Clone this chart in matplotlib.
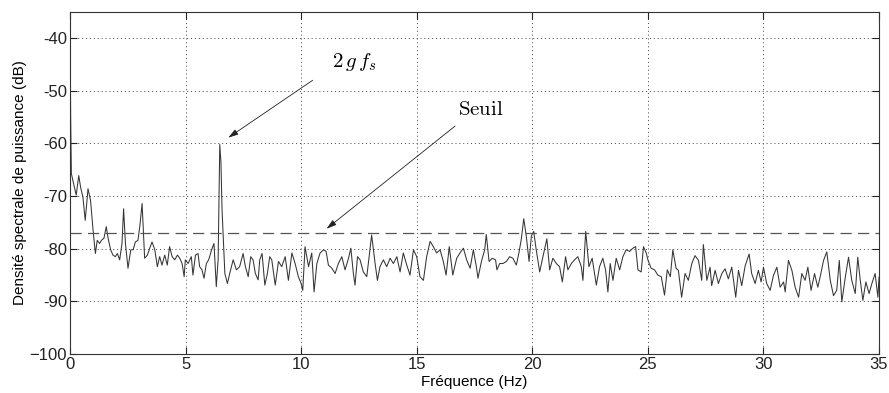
import matplotlib
matplotlib.use("Agg")
import matplotlib.pyplot as plt

# Frequencies (Hz) and power spectral density (dB)
freq = [0.0, 0.03, 0.06, 0.17, 0.27, 0.38, 0.46, 0.56, 0.66, 0.78, 0.89, 1.0,
        1.10, 1.18, 1.28, 1.36, 1.47, 1.57, 1.65, 1.76, 1.86, 1.96, 2.05, 2.15,
        2.25, 2.32, 2.40, 2.51, 2.63, 2.73, 2.83, 2.94, 3.02, 3.12, 3.23, 3.35,
        3.45, 3.55, 3.67, 3.78, 3.88, 3.98, 4.10, 4.21, 4.31, 4.42, 4.53, 4.65,
        4.75, 4.85, 4.94, 4.99,
        5.11, 5.25, 5.32, 5.43, 5.54, 5.61, 5.71, 5.80, 5.90, 6.00, 6.12, 6.23,
        6.33, 6.41, 6.48, 6.53, 6.58, 6.70, 6.81, 6.91, 7.06, 7.20, 7.34, 7.49,
        7.59, 7.71, 7.82, 7.92, 8.02, 8.14, 8.21, 8.31, 8.43, 8.54, 8.64,
        8.73, 8.88, 9.02, 9.16, 9.31, 9.45, 9.60, 9.74, 9.88, 10.0, 10.07, 10.17,
        10.32, 10.46, 10.56, 10.68, 10.82, 10.97, 11.08, 11.18, 11.33, 11.47,
        11.61, 11.76, 11.90, 12.05, 12.15, 12.26, 12.33, 12.44, 12.55, 12.69,
        12.84, 12.95, 13.05, 13.20, 13.30, 13.41, 13.56, 13.70, 13.85, 13.99,
        14.14, 14.28, 14.42, 14.57, 14.71, 14.86, 15.0, 15.14, 15.29, 15.43,
        15.58, 15.72, 15.86, 16.01, 16.15, 16.27, 16.41, 16.56, 16.73, 16.87,
        17.02, 17.16, 17.31, 17.45,
        17.58, 17.65, 17.80, 17.94, 18.01, 18.13, 18.27, 18.41, 18.47, 18.59,
        18.73, 18.88, 19.02, 19.16, 19.31, 19.42, 19.52, 19.63, 19.74, 19.86,
        19.96, 20.06, 20.17, 20.32, 20.46, 20.63, 20.75, 20.89, 21.04, 21.18,
        21.30, 21.44, 21.54, 21.69, 21.83, 21.97, 22.12, 22.19, 22.31, 22.45,
        22.59, 22.77, 22.91, 23.05, 23.17, 23.27, 23.37, 23.49, 23.63, 23.78,
        23.92, 24.06, 24.21, 24.35, 24.47, 24.57, 24.71, 24.81, 24.93, 25.0,
        25.14, 25.29, 25.43, 25.58, 25.72, 25.84, 25.97, 26.08, 26.22,
        26.32, 26.46, 26.61, 26.75, 26.90, 27.04, 27.19, 27.33, 27.40, 27.55,
        27.69, 27.76, 27.91, 28.05, 28.20, 28.34, 28.48, 28.63, 28.80, 28.92,
        29.06, 29.21, 29.38, 29.49, 29.64, 29.78, 29.90, 30.0, 30.14, 30.29,
        30.43, 30.58, 30.72, 30.87, 30.94, 31.08, 31.23, 31.37, 31.52, 31.66,
        31.80, 31.92, 32.06, 32.21, 32.35, 32.45, 32.60, 32.74, 32.89, 33.03,
        33.17, 33.28, 33.39, 33.54, 33.68, 33.82, 33.97, 34.08, 34.18, 34.30,
        34.43, 34.57, 34.69, 34.83, 34.95, 35.0]

psd = [-35.0, -55.0, -65.7, -67.9, -69.8, -66.1, -68.3, -70.2, -74.6, -68.6, -70.8, -76.5,
       -80.9, -78.4, -79.0, -78.4, -78.0, -75.8, -78.0, -80.2, -81.2, -81.5, -80.9, -82.1,
       -79.0, -72.4, -79.0, -83.7, -80.2, -80.2, -78.7, -78.4, -75.8, -71.4, -81.8, -81.2,
       -79.9, -78.7, -80.2, -83.4, -81.5, -83.1, -81.2, -83.1, -79.6, -81.5, -82.1, -81.2,
       -81.8, -82.8, -85.3, -82.1,
       -82.8, -81.5, -85.0, -81.2, -80.9, -83.4, -84.0, -85.6, -82.8, -82.1, -80.3, -79.0,
       -87.2, -82.0, -60.2, -63.5, -72.7, -84.7, -86.6, -84.7, -82.1, -84.0, -83.4, -80.9,
       -83.4, -85.3, -81.5, -82.1, -84.7, -85.9, -82.1, -80.9, -86.9, -84.7, -81.5,
       -82.1, -86.9, -82.4, -83.4, -81.5, -86.0, -80.8, -82.8, -85.3, -86.6, -87.9, -79.6,
       -83.4, -80.8, -88.2, -82.8, -80.8, -80.2, -80.5, -83.1, -83.7, -84.7,
       -82.8, -81.5, -84.0, -81.8, -79.9, -84.7, -86.9, -81.5, -82.1, -84.4,
       -85.3, -81.2, -77.4, -82.8, -86.0, -83.4, -82.1, -83.4, -81.8, -82.8,
       -81.5, -84.4, -80.8, -83.1, -85.0, -80.2, -81.5, -85.3, -86.0, -81.5,
       -78.6, -79.6, -80.8, -80.2, -82.4, -85.0, -79.6, -85.0, -81.8, -80.8,
       -79.9, -82.1, -83.7, -80.2,
       -83.4, -85.6, -82.4, -80.2, -77.3, -82.4, -81.8, -82.1, -84.0, -82.8,
       -82.8, -82.4, -81.5, -81.8, -83.1, -80.8, -78.3, -74.3, -77.6, -82.4,
       -77.6, -76.7, -80.2, -84.4, -81.5, -78.1, -84.0, -81.8, -82.8, -83.4,
       -86.3, -81.5, -84.0, -82.8, -82.1, -81.5, -83.4, -86.0, -76.7, -83.4,
       -81.8, -86.9, -83.4, -81.8, -84.0, -88.2, -82.8, -86.0, -81.8, -84.0,
       -81.5, -80.2, -80.5, -79.9, -79.6, -84.0, -84.4, -79.6, -80.8, -82.1,
       -83.7, -84.0, -85.0, -85.3, -88.8, -84.0, -85.3, -80.2, -83.7,
       -84.1, -89.2, -84.7, -86.0, -82.8, -81.3, -82.2, -86.0, -79.2, -86.0,
       -83.5, -87.0, -84.1, -86.6, -84.7, -83.8, -85.7, -83.5, -89.2, -84.1,
       -87.0, -83.2, -81.0, -84.7, -86.6, -84.1, -86.3, -83.5, -86.6, -87.9,
       -85.1, -83.5, -87.3, -86.3, -88.2, -82.2, -84.1, -87.3, -89.2, -84.7,
       -86.0, -83.5, -87.9, -84.7, -87.3, -85.4, -82.2, -80.6, -86.0, -88.9,
       -87.9, -82.2, -90.1, -85.4, -81.6, -86.0, -88.5, -81.6, -85.7, -89.8,
       -86.3, -88.5, -86.6, -84.7, -89.2, -85.4]

threshold = -77.0
xticks = [0, 5, 10, 15, 20, 25, 30, 35]
yticks = [-100, -90, -80, -70, -60, -50, -40]

plt.rcParams['font.family'] = ['Liberation Sans', 'DejaVu Sans']
plt.rcParams['mathtext.fontset'] = 'cm'

fig = plt.figure(figsize=(8.89, 3.93), dpi=100)
ax = fig.add_axes([0.0787, 0.099, 0.9101, 0.871])

ax.plot(freq, psd, color='#353535', lw=0.75)
ax.axhline(threshold, color='#555555', lw=0.9, ls=(0, (9, 5)))

ax.set_xlim(0, 35)
ax.set_ylim(-100, -35)
ax.set_xticks(xticks)
ax.set_yticks(yticks)
ax.set_xticklabels([str(t) for t in xticks])
ax.set_yticklabels([str(t).replace('-', '\u2212') if t == -100 else str(t) for t in yticks])
ax.tick_params(direction='in', top=True, right=True, length=5, width=0.8,
               labelsize=12, colors='#222222', pad=2)
ax.grid(True, color='#444444', ls=(0, (1, 3)), lw=0.7)
for s in ax.spines.values():
    s.set_color('#333333')
    s.set_linewidth(0.8)

ax.set_xlabel('Fréquence (Hz)', fontsize=11, labelpad=2)
ax.set_ylabel('Densité spectrale de puissance (dB)', fontsize=11, labelpad=2)

arrow = dict(arrowstyle='-|>,head_length=0.6,head_width=0.18', color='#222222',
             lw=0.6, shrinkA=0, shrinkB=0)
ax.annotate('', xy=(6.85, -58.9), xytext=(10.5, -48.0), arrowprops=arrow)
ax.text(12.3, -44.6, r'$2\,g\,f_s$', fontsize=15, ha='center', va='center')
ax.annotate('', xy=(11.1, -76.2), xytext=(16.66, -56.7), arrowprops=arrow)
ax.text(17.75, -53.6, r'$\mathrm{Seuil}$', fontsize=15, ha='center', va='center')

fig.savefig('out.png', dpi=100)
